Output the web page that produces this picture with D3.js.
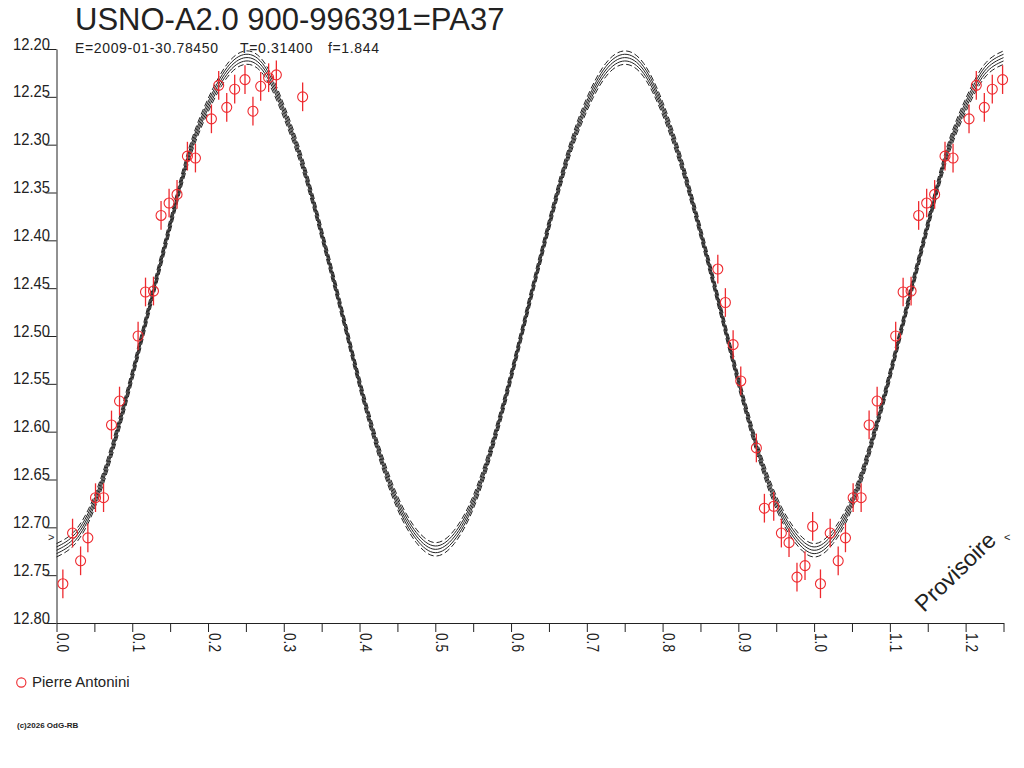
<!DOCTYPE html>
<html>
<head>
<meta charset="utf-8">
<script src="https://cdn.jsdelivr.net/npm/d3@7.9.0/dist/d3.min.js"></script>
<style>
  body { margin: 0; background: #fff; }
  svg { display: block; }
</style>
</head>
<body>
<div id="chart"></div>
<script>
const obsPhase = [0.0084, 0.0212, 0.0318, 0.0414, 0.0515, 0.0621, 0.0726, 0.0832, 0.1077, 0.1175,
  0.1280, 0.1380, 0.1486, 0.1591, 0.1728, 0.1834, 0.2045, 0.2141, 0.2247, 0.2352,
  0.2488, 0.2593, 0.2695, 0.2800, 0.2902, 0.3249,
  0.8729, 0.8829, 0.8931, 0.9032, 0.9238, 0.9344, 0.9467, 0.9568, 0.9669, 0.9774, 0.9880, 0.9981];
const obsMag = [12.759, 12.706, 12.735, 12.711, 12.669, 12.669, 12.593, 12.568, 12.500, 12.454,
  12.453, 12.374, 12.361, 12.352, 12.312, 12.314, 12.273, 12.238, 12.261, 12.242,
  12.232, 12.265, 12.239, 12.230, 12.227, 12.250,
  12.430, 12.465, 12.509, 12.547, 12.617, 12.680, 12.678, 12.706, 12.716, 12.752, 12.740, 12.699];
const obsErr = [0.015, 0.015, 0.015, 0.015, 0.015, 0.015, 0.015, 0.015, 0.015, 0.015,
  0.015, 0.015, 0.015, 0.015, 0.015, 0.015, 0.015, 0.015, 0.015, 0.015,
  0.015, 0.015, 0.015, 0.015, 0.015, 0.015,
  0.015, 0.015, 0.015, 0.015, 0.015, 0.015, 0.015, 0.015, 0.015, 0.015, 0.015, 0.015];

// fitted light curve, every 0.025 in phase from 0 to 1.25
const fitMag = [12.724, 12.710, 12.674, 12.614, 12.541, 12.462, 12.384, 12.310, 12.259, 12.223,
  12.209, 12.222, 12.265, 12.321, 12.393, 12.470, 12.549, 12.619, 12.674, 12.709,
  12.723, 12.710, 12.674, 12.615, 12.542, 12.462, 12.384, 12.312, 12.258, 12.222,
  12.209, 12.222, 12.262, 12.320, 12.391, 12.468, 12.547, 12.618, 12.674, 12.709,
  12.724, 12.710, 12.674, 12.614, 12.541, 12.462, 12.384, 12.310, 12.259, 12.223,
  12.209];
const fitStep = 0.025;
const fitOffsets = [-0.007, -0.0035, 0, 0.0035, 0.007];   // envelope around the fit
const levelMag = 12.71;   // the < > markers

const yTicks = [12.20, 12.25, 12.30, 12.35, 12.40, 12.45, 12.50, 12.55, 12.60, 12.65, 12.70, 12.75, 12.80];
const xTicks = d3.range(0, 26).map(i => i * 0.05);

const title = "USNO-A2.0 900-996391=PA37";
const subtitle = ["E=2009-01-30.78450", "T=0.31400", "f=1.844"];
const observer = "Pierre Antonini";

const width = 1024, height = 768;
const red = "#ee2a2f", ink = "#222";
const font = 'Liberation Sans, Arial, sans-serif';

const svg = d3.select('#chart').append('svg')
  .attr('width', width)
  .attr('height', height);

svg.append('rect').attr('width', width).attr('height', height).attr('fill', '#fff');

const xScale = d3.scaleLinear().domain([0, 1.25]).range([56.5, 1003.5]);
const yScale = d3.scaleLinear().domain([12.2, 12.8]).range([49, 623]);

// title + elements line
svg.append('text')
  .attr('x', 75).attr('y', 29.5)
  .attr('font-family', font)
  .attr('font-size', 31).attr('fill', ink)
  .text(title);

const subX = [75, 240, 328];
svg.selectAll('text.sub').data(subtitle).join('text')
  .attr('class', 'sub')
  .attr('x', (d, i) => subX[i]).attr('y', 53.3)
  .attr('font-family', font)
  .attr('font-size', 14).attr('letter-spacing', 0.65).attr('fill', ink)
  .text(d => d);

// y axis
const yAxis = d3.axisLeft(yScale)
  .tickValues(yTicks)
  .tickSize(11)
  .tickSizeOuter(0)
  .tickFormat(d3.format('.2f'));

const gy = svg.append('g')
  .attr('transform', `translate(${xScale(0)},0)`)
  .call(yAxis);
gy.selectAll('path, line').attr('stroke', ink);
gy.selectAll('text')
  .attr('font-family', font)
  .attr('font-size', 17)
  .attr('fill', ink)
  .attr('textLength', 37)
  .attr('lengthAdjust', 'spacingAndGlyphs')
  .attr('x', -6.5)
  .attr('dy', 0)
  .attr('y', 0);

// x axis
const xAxis = d3.axisBottom(xScale)
  .tickValues(xTicks)
  .tickSize(9)
  .tickSizeOuter(0)
  .tickFormat((d, i) => i % 2 === 0 ? d3.format('.1f')(d) : '');

const gx = svg.append('g')
  .attr('transform', `translate(0,${yScale(12.8)})`)
  .call(xAxis);
gx.selectAll('path, line').attr('stroke', ink);
gx.selectAll('text')
  .attr('font-family', font)
  .attr('font-size', 16.5)
  .attr('fill', ink)
  .attr('text-anchor', 'start')
  .attr('textLength', d => (xTicks.indexOf(d) % 2 === 0 ? 19 : null))
  .attr('lengthAdjust', 'spacingAndGlyphs')
  .attr('transform', 'rotate(90)')
  .attr('x', 10)
  .attr('y', 0)
  .attr('dy', 0);
svg.selectAll('.domain').attr('stroke', ink);

// fitted curve with envelope
const line = d3.line()
  .x((d, i) => xScale(i * fitStep))
  .y(d => yScale(d))
  .curve(d3.curveNatural);

const fits = svg.append('g').attr('class', 'fit');
fitOffsets.forEach(off => {
  fits.append('path')
    .attr('d', line(fitMag.map(m => m + off)))
    .attr('fill', 'none')
    .attr('stroke', ink)
    .attr('stroke-width', 1)
    .attr('stroke-dasharray', Math.abs(off) > 0.005 ? '6,3' : null);
});

// observations, repeated one cycle later while inside the plotted range
let points = obsPhase.map((p, i) => ({ phase: p, mag: obsMag[i], err: obsErr[i] }));
points = points.concat(points.map(d => ({ ...d, phase: d.phase + 1 })).filter(d => d.phase <= 1.25));

const dots = svg.append('g').attr('class', 'dots');
dots.selectAll('line').data(points).join('line')
  .attr('x1', d => xScale(d.phase)).attr('x2', d => xScale(d.phase))
  .attr('y1', d => yScale(d.mag - d.err)).attr('y2', d => yScale(d.mag + d.err))
  .attr('stroke', red).attr('stroke-width', 1.3);
dots.selectAll('circle').data(points).join('circle')
  .attr('cx', d => xScale(d.phase)).attr('cy', d => yScale(d.mag))
  .attr('r', 5)
  .attr('fill', 'none')
  .attr('stroke', red).attr('stroke-width', 1.1);

// level markers
svg.append('text')
  .attr('x', xScale(0) - 2).attr('y', yScale(levelMag) + 4)
  .attr('text-anchor', 'end')
  .attr('font-family', font)
  .attr('font-size', 11).attr('fill', ink)
  .text('>');
svg.append('text')
  .attr('x', xScale(1.25) + 0.5).attr('y', yScale(levelMag) + 4)
  .attr('font-family', font)
  .attr('font-size', 11).attr('fill', ink)
  .text('<');

// watermark
svg.append('text')
  .attr('transform', 'translate(924,613) rotate(-44)')
  .attr('font-family', font)
  .attr('font-size', 23).attr('fill', ink)
  .text('Provisoire');

// legend
svg.append('circle')
  .attr('cx', 21.3).attr('cy', 682.5).attr('r', 4.6)
  .attr('fill', 'none').attr('stroke', red).attr('stroke-width', 1.1);
svg.append('text')
  .attr('x', 32).attr('y', 687)
  .attr('font-family', font)
  .attr('font-size', 15).attr('fill', ink)
  .text(observer);

svg.append('text')
  .attr('x', 17).attr('y', 728)
  .attr('font-family', font)
  .attr('font-size', 8).attr('font-weight', 'bold').attr('fill', ink)
  .text('(c)2026 OdG-RB');
</script>
</body>
</html>
